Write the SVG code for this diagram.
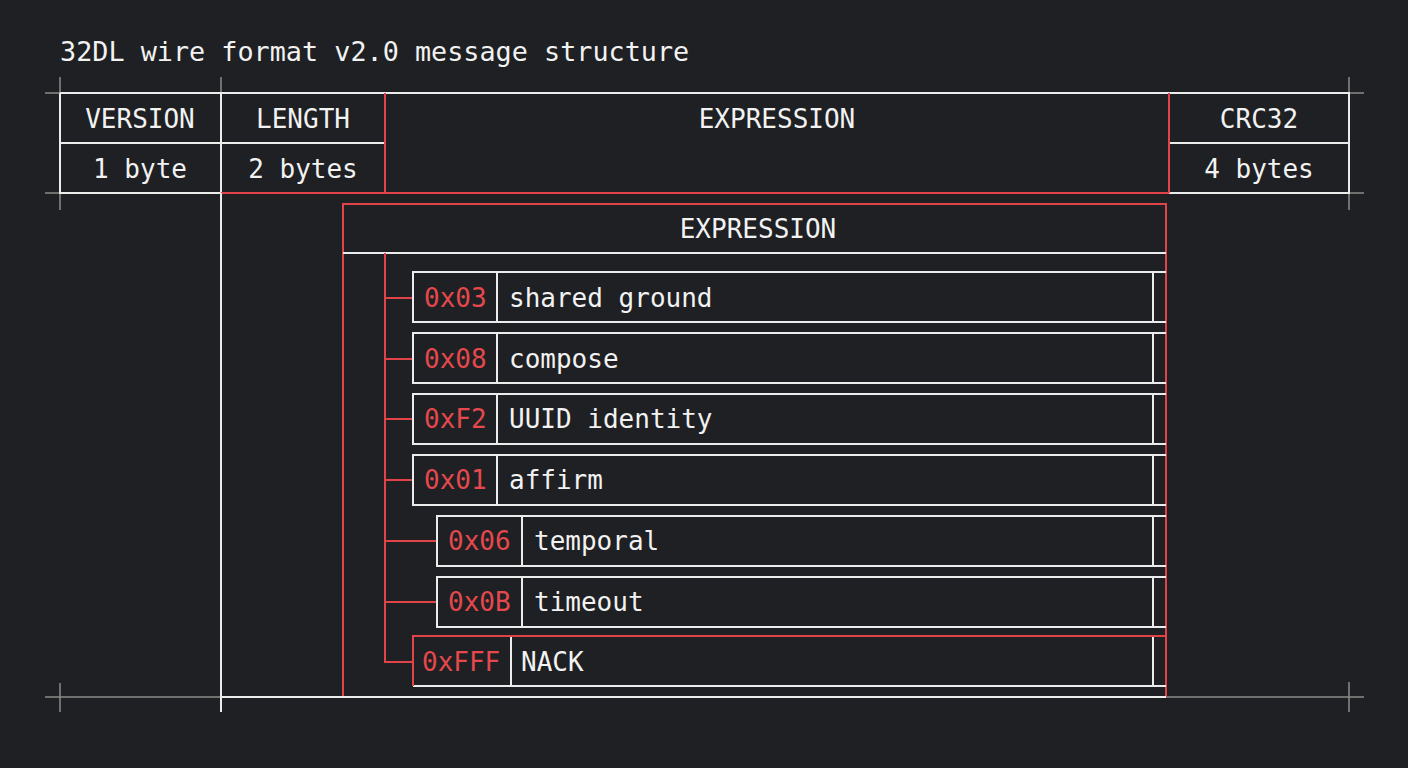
<svg xmlns="http://www.w3.org/2000/svg" width="1408" height="768" viewBox="0 0 1408 768">
<style>
text{font-family:"DejaVu Sans Mono","Liberation Mono",monospace;font-size:26px;fill:#f2f2f2;dominant-baseline:central}
.c{text-anchor:middle}
.hex{fill:#e5484d}
.w{fill:none;stroke:#ececec;stroke-width:2}
.r{fill:none;stroke:#e04448;stroke-width:2}
.g{fill:none;stroke:#8a8a8a;stroke-width:1.5}
</style>
<rect width="1408" height="768" fill="#1f2023"/>
<text x="60" y="51" style="font-size:26.8px">32DL wire format v2.0 message structure</text>

<g id="guides">
<path class="g" d="M45 93H60M60 77V93M45 193H60M60 193V210M1349 77V93M1349 93H1364M1349 193H1364M1349 193V210M45 697H221M1166 697H1364M60 683V712M1349 682V712M221 77V93"/>
</g>

<g id="header">
<path class="w" d="M60 93H1349V193H1169M385 193H60V93M60 143H385M1169 143H1349M221 93V193M1349 93V193"/>
<path class="r" d="M385 93V193M1169 93V193M221 193H1169"/>
<text class="c" x="140" y="119">VERSION</text>
<text class="c" x="303" y="119">LENGTH</text>
<text class="c" x="777" y="119">EXPRESSION</text>
<text class="c" x="1259" y="119">CRC32</text>
<text class="c" x="140" y="169">1 byte</text>
<text class="c" x="303" y="169">2 bytes</text>
<text class="c" x="1259" y="169">4 bytes</text>
</g>

<g id="expression">
<path class="r" d="M343 697V204H1166V697"/>
<path class="w" d="M221 193V712M221 697H1166M343 253H1166"/>
<text class="c" x="758" y="229">EXPRESSION</text>
</g>

<g id="connectors">
<path class="r" d="M385 253V662H413M385 298H413M385 359H413M385 419H413M385 480H413M385 541H437M385 602H437"/>
</g>

<g id="row-0x03">
<path class="w" d="M1166 272H413V322H1166M497 272V322M1153 272V322"/>
<text class="hex" x="424" y="298">0x03</text>
<text x="509" y="298">shared ground</text>
</g>
<g id="row-0x08">
<path class="w" d="M1166 333H413V383H1166M497 333V383M1153 333V383"/>
<text class="hex" x="424" y="359">0x08</text>
<text x="509" y="359">compose</text>
</g>
<g id="row-0xF2">
<path class="w" d="M1166 394H413V444H1166M497 394V444M1153 394V444"/>
<text class="hex" x="424" y="419">0xF2</text>
<text x="509" y="419">UUID identity</text>
</g>
<g id="row-0x01">
<path class="w" d="M1166 455H413V505H1166M497 455V505M1153 455V505"/>
<text class="hex" x="424" y="480">0x01</text>
<text x="509" y="480">affirm</text>
</g>
<g id="row-0x06">
<path class="w" d="M1166 516H437V566H1166M522 516V566M1153 516V566"/>
<text class="hex" x="448" y="541">0x06</text>
<text x="534" y="541">temporal</text>
</g>
<g id="row-0x0B">
<path class="w" d="M1166 577H437V627H1166M522 577V627M1153 577V627"/>
<text class="hex" x="448" y="602">0x0B</text>
<text x="534" y="602">timeout</text>
</g>
<g id="row-0xFFF">
<path class="w" d="M413 686H1166M511 636V686M1153 636V686"/>
<path class="r" d="M413 686V636H1166"/>
<text class="hex" x="422" y="662">0xFFF</text>
<text x="521" y="662">NACK</text>
</g>
</svg>
